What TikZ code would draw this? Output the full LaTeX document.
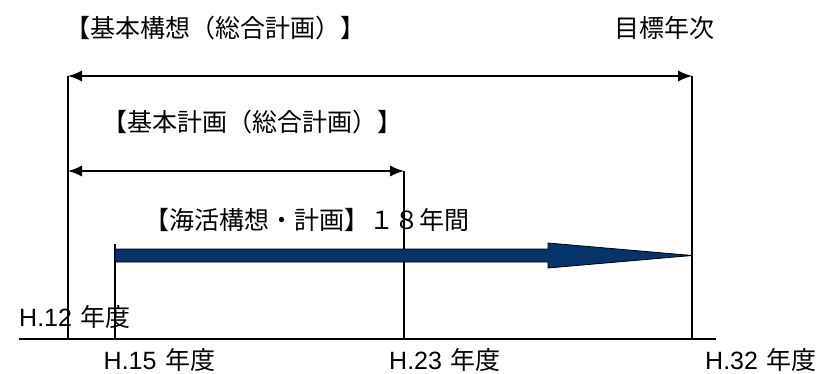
\documentclass[tikz,border=0pt]{standalone}
\usepackage{fontspec}
\setmainfont{Noto Sans CJK JP}
\newfontfamily\latinfont{Liberation Sans}
\usepackage{tikz}
\usetikzlibrary{arrows.meta}
\definecolor{kainavy}{RGB}{6,52,106}
\newcommand{\nendo}[1]{{\latinfont H.#1}\hspace{0.35em}年度}
\tikzset{
  lbl/.style={inner sep=0pt,font=\fontsize{25pt}{27pt}\selectfont},
  span/.style={line width=1.3pt,{Latex[length=14pt,width=11pt]}-{Latex[length=14pt,width=11pt]}},
  tick/.style={line width=1.3pt}
}

\begin{document}
\begin{tikzpicture}[x=1pt,y=-1pt]
    \useasboundingbox (0,0) rectangle (826,374);
    \coordinate (axL) at (19,339);
    \coordinate (axR) at (716,339);
    \coordinate (t12) at (68,76);
    \coordinate (b12) at (68,339);
    \coordinate (t15) at (115,244);
    \coordinate (b15) at (115,339);
    \coordinate (t23) at (404,171);
    \coordinate (b23) at (404,339);
    \coordinate (m12) at (68,171);
    \coordinate (t32) at (692,76);
    \coordinate (b32) at (692,339);
    \draw[tick] (axL) -- (axR);
    \draw[tick] (t12) -- (b12);
    \draw[tick] (t15) -- (b15);
    \draw[tick] (t23) -- (b23);
    \draw[tick] (t32) -- (b32);
    \draw[span] (t12) -- (t32);
    \draw[span] (m12) -- (t23);
    \filldraw[fill=kainavy,draw=black,line width=0.8pt]
      (115,249) -- (548,249) -- (548,243) -- (692,255.5)
      -- (548,268) -- (548,262) -- (115,262) -- cycle;
    \node[lbl] (kousou) at (215.5,28) {【基本構想（総合計画）】};
    \node[lbl] (mokuhyou) at (664,28) {目標年次};
    \node[lbl] (keikaku) at (252.5,122) {【基本計画（総合計画）】};
    \node[lbl] (kaikatsu) at (307,220) {【海活構想・計画】１８年間};
    \node[lbl] (h12) at (75,317) {\nendo{12}};
    \node[lbl] (h15) at (159.5,360) {\nendo{15}};
    \node[lbl] (h23) at (445,360) {\nendo{23}};
    \node[lbl] (h32) at (761,360) {\nendo{32}};
  \end{tikzpicture}
\end{document}
